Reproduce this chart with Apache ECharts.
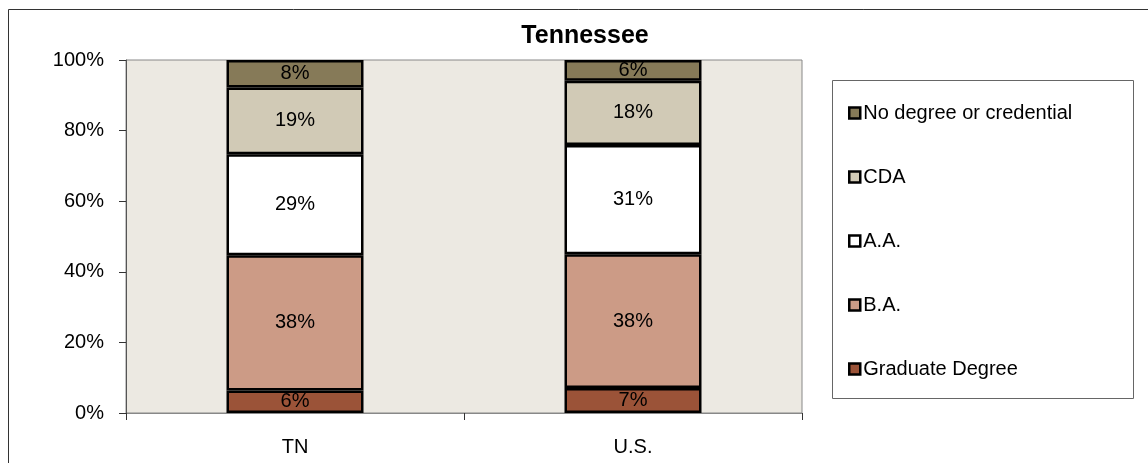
<!DOCTYPE html>
<html style="height: 100%">
<head>
<meta charset="utf-8"/>
<script type="text/javascript" src="https://cdn.jsdelivr.net/npm/echarts@6/dist/echarts.min.js"></script>
</head>
<body style="height: 100%; margin: 0; background: #fff">
<div id="container" style="width: 1148px; height: 463px"></div>
<script type="text/javascript">
var categories = ['TN', 'U.S.'];
var seriesNames = ['Graduate Degree', 'B.A.', 'A.A.', 'CDA', 'No degree or credential'];
var seriesColors = ['#9B5338', '#CC9B86', '#FFFFFF', '#D1CAB6', '#867A58'];
// percentages, bottom to top
var gradValues = [6.4, 7.1];
var baValues = [38.3, 37.9];
var aaValues = [28.6, 30.9];
var cdaValues = [18.9, 18.2];
var noDegreeValues = [7.8, 5.9];
var yTicks = [0, 20, 40, 60, 80, 100];

var allValues = [gradValues, baValues, aaValues, cdaValues, noDegreeValues];
var font = 'Liberation Sans, Arial, sans-serif';

var series = [];
for (var i = 0; i < seriesNames.length; i++) {
	series.push({
		name: seriesNames[i],
		type: 'bar',
		stack: 'total',
		barWidth: 137,
		data: allValues[i],
		itemStyle: {color: seriesColors[i], borderColor: '#000', borderWidth: 2.5},
		label: {
			show: true,
			position: 'inside',
			color: '#000',
			fontFamily: font,
			fontSize: 20,
			formatter: function (p) { return Math.round(p.value) + '%'; }
		}
	});
}

var myChart = echarts.init(document.getElementById('container'));
var option = {
	animation: false,
	backgroundColor: '#fff',
	title: {
		text: 'Tennessee',
		left: 580,
		textAlign: 'center',
		top: 19,
		textStyle: {fontFamily: font, fontSize: 25, fontWeight: 'bold', color: '#000'}
	},
	graphic: [
		{type: 'rect', shape: {x: 8.5, y: 9.5, width: 1200, height: 500}, style: {fill: 'none', stroke: '#333', lineWidth: 1}, z: 0},
		{type: 'rect', shape: {x: 832.5, y: 80.5, width: 301, height: 318}, style: {fill: '#fff', stroke: '#666', lineWidth: 1}, z: 1}
	],
	grid: {
		left: 126, top: 60, right: 346, bottom: 50,
		show: true, backgroundColor: '#ECE9E2', borderColor: '#888', borderWidth: 1
	},
	legend: {
		orient: 'vertical',
		left: 843,
		top: 98,
		itemGap: 44,
		itemWidth: 11,
		itemHeight: 11,
		icon: 'rect',
		data: seriesNames.slice().reverse(),
		itemStyle: {borderColor: '#000', borderWidth: 2.5},
		textStyle: {fontFamily: font, fontSize: 20, color: '#000', padding: [0, 0, 0, -2]},
		z: 5
	},
	xAxis: {
		type: 'category',
		data: categories,
		axisLine: {lineStyle: {color: '#888'}},
		axisTick: {show: true, length: 7, lineStyle: {color: '#333'}},
		axisLabel: {fontFamily: font, fontSize: 20, color: '#000', margin: 24}
	},
	yAxis: {
		type: 'value',
		min: yTicks[0],
		max: yTicks[yTicks.length - 1],
		interval: 20,
		axisLine: {show: true, lineStyle: {color: '#555'}},
		axisTick: {show: true, length: 7, lineStyle: {color: '#333'}},
		splitLine: {show: false},
		axisLabel: {fontFamily: font, fontSize: 20, color: '#000', margin: 22, formatter: '{value}%'}
	},
	series: series
};
myChart.setOption(option);
</script>
</body>
</html>
